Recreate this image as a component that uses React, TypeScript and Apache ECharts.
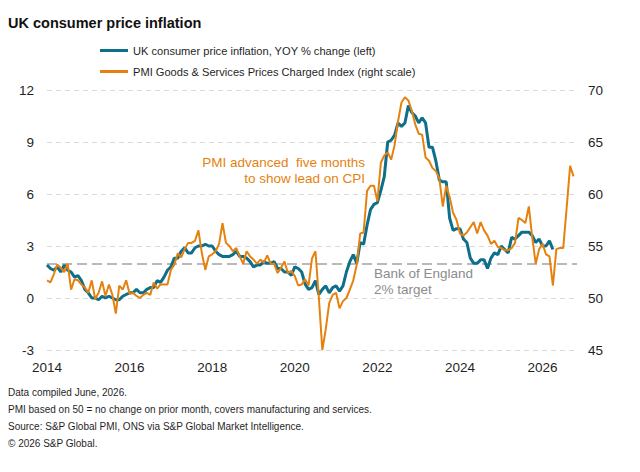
import React, { useEffect, useRef } from "react";
import * as echarts from "echarts";

const START_YEAR = 2014;
const MONTH_COUNT = 155; // Jan 2014 .. Nov 2026
const months: string[] = [];
for (let i = 0; i < MONTH_COUNT; i++) {
  const y = START_YEAR + Math.floor(i / 12);
  const m = (i % 12) + 1;
  months.push(`${y}-${String(m).padStart(2, "0")}`);
}

// UK CPI, YOY % change (left axis), Jan 2014 .. Apr 2026
const cpi: number[] = [
  1.9, 1.7, 1.6, 1.8, 1.5, 1.9, 1.6, 1.5, 1.2, 1.3, 1.0, 0.5,
  0.3, 0.0, 0.0, -0.1, 0.1, 0.0, 0.1, 0.0, -0.1, -0.1, 0.1, 0.2,
  0.3, 0.3, 0.5, 0.3, 0.3, 0.5, 0.6, 0.6, 1.0, 0.9, 1.2, 1.6,
  1.8, 2.3, 2.3, 2.7, 2.9, 2.6, 2.6, 2.9, 3.0, 3.0, 3.1, 3.0,
  3.0, 2.7, 2.5, 2.4, 2.4, 2.4, 2.5, 2.7, 2.4, 2.4, 2.3, 2.1,
  1.8, 1.9, 1.9, 2.1, 2.0, 2.0, 2.1, 1.7, 1.7, 1.5, 1.5, 1.3,
  1.8, 1.7, 1.5, 0.8, 0.5, 0.6, 1.0, 0.2, 0.5, 0.7, 0.3, 0.6,
  0.7, 0.4, 0.7, 1.5, 2.1, 2.5, 2.0, 3.2, 3.1, 4.2, 5.1, 5.4,
  5.5, 6.2, 7.0, 9.0, 9.1, 9.4, 10.1, 9.9, 10.1, 11.1, 10.7, 10.5,
  10.1, 10.4, 10.1, 8.7, 8.7, 7.9, 6.8, 6.7, 6.7, 4.6, 3.9, 4.0,
  4.0, 3.4, 3.2, 2.3, 2.0, 2.0, 2.2, 2.2, 1.7, 2.3, 2.6, 2.5,
  3.0, 2.8, 2.6, 3.5, 3.4, 3.6, 3.8, 3.8, 3.8, 3.6, 3.2, 3.4,
  3.0, 3.0, 3.3, 2.8,
];

// PMI Prices Charged Index (right axis), advanced five months, plotted Jan 2014 .. Oct 2026
const pmi: number[] = [
  51.7, 51.5, 52.3, 53.2, 52.9, 52.5, 53.3, 50.8, 51.8, 51.7, 51.3, 51.0,
  50.5, 51.7, 49.9, 50.5, 51.6, 50.2, 51.3, 50.3, 48.5, 51.2, 50.8, 51.7,
  50.4, 50.5, 50.2, 50.0, 50.3, 50.5, 50.3, 51.5, 50.9, 51.3, 51.3, 51.3,
  52.7, 53.2, 54.3, 53.9, 54.7, 55.3, 55.3, 55.5, 56.5, 54.3, 52.7, 54.0,
  54.2, 54.5, 55.2, 57.2, 55.3, 55.0, 54.5, 54.8, 54.0, 53.3, 54.5, 54.0,
  53.7, 53.3, 53.7, 53.4, 54.1, 53.3, 53.3, 52.4, 52.9, 53.5, 52.4, 52.6,
  52.1, 51.2, 51.3, 51.8, 51.2, 53.8, 54.5, 50.0, 45.0, 47.0, 49.5, 50.3,
  50.5, 49.0, 49.7, 50.0, 50.8, 51.7, 53.2, 56.2, 56.3, 60.3, 60.8, 60.8,
  59.3, 63.0, 63.7, 64.0, 63.3, 64.7, 67.0, 68.8, 69.3, 69.0, 68.0, 66.7,
  65.8, 65.7, 63.5, 63.2, 62.5, 62.2, 61.5, 58.8, 60.8, 59.7, 58.2, 57.5,
  56.2, 56.0, 56.3, 56.8, 57.3, 56.2, 57.3, 56.5, 56.0, 55.2, 55.5, 54.9,
  54.8, 54.6, 54.6, 54.8, 55.3, 57.7, 57.5, 57.2, 58.8, 55.8, 53.3, 54.7,
  55.2, 54.2, 54.0, 51.2, 54.7, 54.8, 54.8, 58.7, 62.7, 61.7,
];

const leftAxis = { min: -3, max: 12, interval: 3 };
const rightAxis = { min: 45, max: 70, interval: 5 };
const targetRate = 2;

const seriesNames = [
  "UK consumer price inflation, YOY % change (left)",
  "PMI Goods & Services Prices Charged Index (right scale)",
];
const titleText = "UK consumer price inflation";
const annotationLines = ["PMI advanced  five months", "to show lead on CPI"];
const targetLines = ["Bank of England", "2% target"];
const footerLines = [
  "Data compiled June, 2026.",
  "PMI based on 50 = no change on prior month, covers manufacturing and services.",
  "Source: S&P Global PMI, ONS via S&P Global Market Intelligence.",
  "\u00A9 2026 S&P Global.",
];

const FONT = '"Liberation Sans", Arial, Helvetica, sans-serif';
const TEAL = "#0f6f8b";
const ORANGE = "#e5820f";
const TEXT = "#1f1f1f";

export default function App() {
  const ref = useRef<HTMLDivElement>(null);

  useEffect(() => {
    if (!ref.current) return;
    const chart = echarts.init(ref.current, undefined, { renderer: "svg" });

    const graphics: any[] = [];
    annotationLines.forEach((t, i) => {
      graphics.push({
        type: "text",
        x: 365,
        y: 162 + i * 16,
        silent: true,
        style: {
          text: t,
          fill: ORANGE,
          fontSize: 13.5,
          fontFamily: FONT,
          align: "right",
          verticalAlign: "middle",
          textAlign: "right",
          textVerticalAlign: "middle",
        },
      });
    });
    targetLines.forEach((t, i) => {
      graphics.push({
        type: "text",
        x: 374,
        y: 273 + i * 16,
        silent: true,
        style: {
          text: t,
          fill: "#8c8c8c",
          fontSize: 13.5,
          fontFamily: FONT,
          align: "left",
          verticalAlign: "middle",
          textAlign: "left",
          textVerticalAlign: "middle",
        },
      });
    });
    footerLines.forEach((t, i) => {
      graphics.push({
        type: "text",
        x: 8,
        y: 392 + i * 17,
        silent: true,
        style: {
          text: t,
          fill: TEXT,
          fontSize: 10,
          fontFamily: FONT,
          align: "left",
          verticalAlign: "middle",
          textAlign: "left",
          textVerticalAlign: "middle",
        },
      });
    });

    chart.setOption({
      animation: false,
      backgroundColor: "#ffffff",
      textStyle: { fontFamily: FONT },
      title: {
        text: titleText,
        left: 3,
        top: 10,
        textStyle: { fontSize: 14.5, fontWeight: "bold", color: "#111", fontFamily: FONT },
      },
      legend: {
        orient: "vertical",
        left: 95,
        top: 40,
        itemWidth: 28,
        itemHeight: 3,
        itemGap: 10,
        icon: "rect",
        textStyle: { fontSize: 11.1, color: TEXT, fontFamily: FONT },
        data: seriesNames,
      },
      grid: { left: 47, right: 63, top: 90, bottom: 122, containLabel: false },
      xAxis: {
        type: "category",
        data: months,
        boundaryGap: false,
        axisLine: { show: false },
        axisTick: { show: false },
        splitLine: { show: false },
        axisLabel: {
          interval: (index: number) => index % 24 === 0,
          formatter: (v: string) => v.slice(0, 4),
          color: TEXT,
          fontSize: 13.5,
          margin: 10,
          fontFamily: FONT,
        },
      },
      yAxis: [
        {
          type: "value",
          min: leftAxis.min,
          max: leftAxis.max,
          interval: leftAxis.interval,
          axisLine: { show: false },
          axisTick: { show: false },
          axisLabel: { color: TEXT, fontSize: 13.5, margin: 13, fontFamily: FONT },
          splitLine: { lineStyle: { color: "#d9d9d9", type: [5, 4], width: 1 } },
        },
        {
          type: "value",
          min: rightAxis.min,
          max: rightAxis.max,
          interval: rightAxis.interval,
          position: "right",
          axisLine: { show: false },
          axisTick: { show: false },
          axisLabel: { color: TEXT, fontSize: 13.5, margin: 11, fontFamily: FONT },
          splitLine: { show: false },
        },
      ],
      series: [
        {
          name: seriesNames[0],
          type: "line",
          yAxisIndex: 0,
          data: cpi,
          symbol: "none",
          color: TEAL,
          lineStyle: { color: TEAL, width: 3 },
          z: 3,
          markLine: {
            silent: true,
            symbol: "none",
            label: { show: false },
            lineStyle: { color: "#a3a3a3", type: [10, 5], width: 1.5 },
            data: [{ yAxis: targetRate }],
            z: 1,
          },
        },
        {
          name: seriesNames[1],
          type: "line",
          yAxisIndex: 1,
          data: pmi,
          symbol: "none",
          color: ORANGE,
          lineStyle: { color: ORANGE, width: 2 },
          z: 4,
        },
      ],
      graphic: graphics,
    });

    return () => chart.dispose();
  }, []);

  return (
    <div
      ref={ref}
      style={{ position: "fixed", left: 0, top: 0, width: 640, height: 472, background: "#fff" }}
    />
  );
}
